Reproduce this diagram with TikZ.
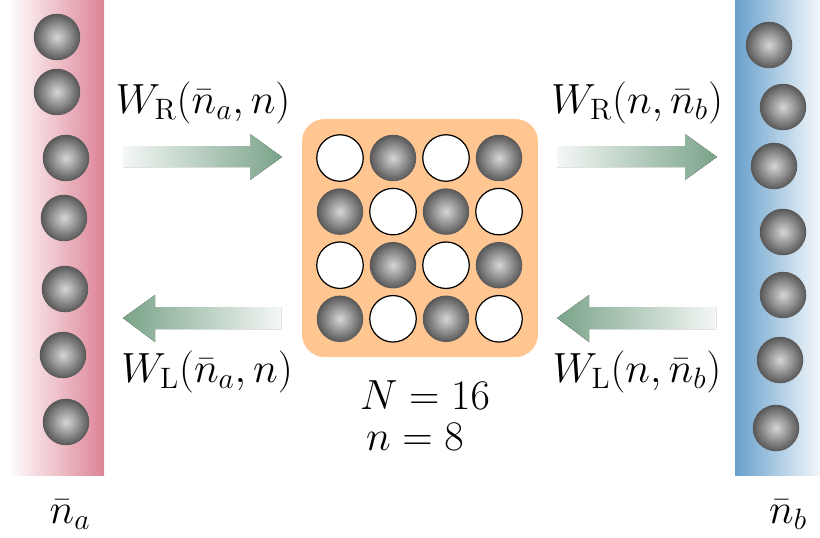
\documentclass[tikz,border=0pt]{standalone}
\usepackage{fix-cm}
\usetikzlibrary{positioning}

\definecolor{resA}{RGB}{221,132,150}
\definecolor{resB}{RGB}{104,160,204}
\definecolor{boxpeach}{RGB}{255,198,146}
\definecolor{flowgreen}{RGB}{122,163,137}
\pgfdeclareradialshading{sphereshade}{\pgfpoint{0bp}{0bp}}{color(0bp)=(black!16); color(25bp)=(black!66); color(50bp)=(black!66)}

\tikzset{
  sphere/.style={circle, minimum size=0.93cm, inner sep=0pt, shading=sphereshade},
  hole/.style={circle, minimum size=0.93cm, inner sep=0pt, draw=black, line width=0.7pt, fill=white},
  sysbox/.style={fill=boxpeach, rounded corners=0.45cm, minimum width=4.72cm, minimum height=4.76cm, inner sep=0pt},
  flowright/.style={left color=flowgreen!8, right color=flowgreen},
  flowleft/.style={left color=flowgreen, right color=flowgreen!8},
  lab/.style={font=\fontsize{24}{29}\selectfont},
}

\begin{document}
\begin{tikzpicture}[x=0.02cm, y=-0.02cm]
    \useasboundingbox (0,0) rectangle (820,537);

    % Reservoirs
    \fill[left color=white, right color=resA] (8,0) rectangle (104,475);
    \fill[left color=resB, right color=resB!8] (735,0) rectangle (820,475);

    % Particles in the reservoirs
    \foreach \i/\x/\y in {1/57/37, 2/57/92, 3/66/158, 4/64/218, 5/65/289, 6/63/355, 7/66/422}
        \node[sphere] (a\i) at (\x,\y) {};
    \foreach \i/\x/\y in {1/769/45, 2/783/107, 3/774/166, 4/783/232, 5/783/295, 6/780/360, 7/776/428}
        \node[sphere] (b\i) at (\x,\y) {};

    % System with N sites
    \node[sysbox] (sys) at (420,238) {};
    \foreach \r in {0,...,3}
        \foreach \c in {0,...,3} {
            \pgfmathtruncatemacro\pty{mod(\r+\c,2)}
            \ifnum\pty=0
                \node[hole] (s\r\c) at (340+53*\c,158+53.6*\r) {};
            \else
                \node[sphere] (s\r\c) at (340+53*\c,158+53.6*\r) {};
            \fi
        }

    % Transfer arrows
    \fill[flowright] (123,146) -- (250,146) -- (250,134) -- (282,157) -- (250,180) -- (250,167) -- (123,167) -- cycle;
    \fill[flowright] (557,146) -- (685,146) -- (685,134) -- (717,157) -- (685,180) -- (685,167) -- (557,167) -- cycle;
    \fill[flowleft] (123,318) -- (155,295) -- (155,307) -- (281,307) -- (281,329) -- (155,329) -- (155,342) -- cycle;
    \fill[flowleft] (557,318) -- (589,295) -- (589,307) -- (716,307) -- (716,329) -- (589,329) -- (589,342) -- cycle;

    % Rates
    \node[lab] (wra) at (203,103) {$W_{\mathrm{R}}(\bar{n}_a,n)$};
    \node[lab] (wrb) at (637,103) {$W_{\mathrm{R}}(n,\bar{n}_b)$};
    \node[lab] (wla) at (207,372) {$W_{\mathrm{L}}(\bar{n}_a,n)$};
    \node[lab] (wlb) at (637,372) {$W_{\mathrm{L}}(n,\bar{n}_b)$};

    % Numbers
    \node[lab] (bign) at (425,395) {$N=16$};
    \node[lab] (smalln) at (415,437) {$n=8$};
    \node[lab] (na) at (70,515) {$\bar{n}_a$};
    \node[lab] (nb) at (788,515) {$\bar{n}_b$};
\end{tikzpicture}
\end{document}
